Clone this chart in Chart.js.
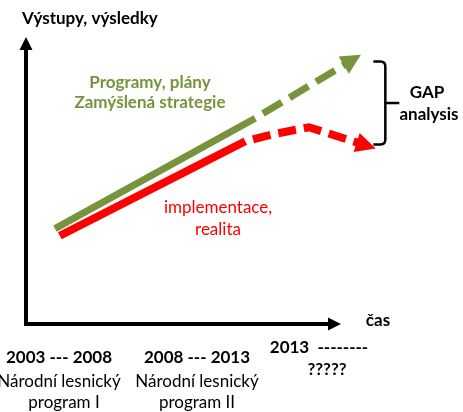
<!DOCTYPE html>
<html><head><meta charset="utf-8">
<script src="https://cdn.jsdelivr.net/npm/chart.js@4/dist/chart.umd.min.js"></script>
<style>html,body{margin:0;padding:0;background:#fff}#wrap{width:463px;height:412px;position:relative}</style>
</head><body><div id="wrap"><canvas id="c" width="463" height="412"></canvas></div>
<script>
// ---- data (abstract units: time 0..100, outputs 0..100) ----
const planTime   = [9.6, 75.9, 107.2];
const planOutput = [34.8, 75.1, 95.8];
const realTime   = [11.2, 72.6, 81.5, 93.7, 111.7];
const realOutput = [32.2, 66.7, 69.2, 71.8, 65.5];
const planLabel  = ['Programy, plány', 'Zamýšlená strategie'];
const realLabel  = ['implementace,', 'realita'];
const yAxisLabel = 'Výstupy, výsledky';
const xAxisLabel = 'čas';
const gapLabel   = ['GAP', 'analysis'];
const periodLabels = [
  ['2003 --- 2008', 'Národní lesnický', 'program I'],
  ['2008 --- 2013', 'Národní lesnický', 'program II'],
  ['2013  --------', '?????']
];

const GREEN = '#77933C', RED = '#FF0000';
const FONT = 'Lato, Carlito, "Liberation Sans", sans-serif';

function pts(xs, ys){ return xs.map((x,i)=>({x:x, y:ys[i]})); }

const arrowPlugin = {
  id: 'arrowHeads',
  afterDatasetsDraw(chart){
    const ctx = chart.ctx;
    chart.data.datasets.forEach((ds,i)=>{
      const p = chart.getDatasetMeta(i).data;
      const a = p[p.length-2], b = p[p.length-1];
      let dx=b.x-a.x, dy=b.y-a.y; const L=Math.hypot(dx,dy); dx/=L; dy/=L;
      const len=20, hw=10, fwd=13;
      const tx=b.x+dx*fwd, ty=b.y+dy*fwd, bx=tx-dx*len, by=ty-dy*len;
      ctx.save(); ctx.beginPath(); ctx.moveTo(tx,ty);
      ctx.lineTo(bx-dy*hw, by+dx*hw); ctx.lineTo(bx+dy*hw, by-dx*hw); ctx.closePath();
      ctx.fillStyle=ds.borderColor; ctx.fill(); ctx.restore();
    });
    // axis arrow heads
    const ca = chart.chartArea;
    ctx.save(); ctx.fillStyle='#000';
    ctx.beginPath(); ctx.moveTo(ca.right+13, ca.bottom); ctx.lineTo(ca.right, ca.bottom-6.5); ctx.lineTo(ca.right, ca.bottom+6.5); ctx.closePath(); ctx.fill();
    ctx.beginPath(); ctx.moveTo(ca.left, ca.top-13); ctx.lineTo(ca.left-6.5, ca.top); ctx.lineTo(ca.left+6.5, ca.top); ctx.closePath(); ctx.fill();
    // brace between end of plan and end of reality
    const g = chart.getDatasetMeta(0).data, r = chart.getDatasetMeta(1).data;
    const top = g[g.length-1].y, bot = r[r.length-1].y;
    const xl = r[r.length-1].x + 10, xv = xl + 12, mid=(top+bot)/2;
    ctx.strokeStyle='#000'; ctx.lineWidth=2.5; ctx.lineJoin='round';
    ctx.beginPath(); ctx.moveTo(xl, top); ctx.lineTo(xv-5, top); ctx.quadraticCurveTo(xv, top, xv, top+5);
    ctx.lineTo(xv, bot-5); ctx.quadraticCurveTo(xv, bot, xv-5, bot); ctx.lineTo(xl, bot); ctx.stroke();
    ctx.beginPath(); ctx.moveTo(xv, mid); ctx.lineTo(xv+14, mid); ctx.stroke();
    ctx.restore();
  }
};

const textPlugin = {
  id: 'texts',
  afterDraw(chart){
    const ctx = chart.ctx;
    const put = (t, x, y, color, bold, align) => {
      ctx.font = (bold ? 'bold ' : '') + '17px ' + FONT;
      ctx.fillStyle = color; ctx.textAlign = align || 'center'; ctx.textBaseline = 'alphabetic';
      ctx.fillText(t, x, y);
    };
    ctx.save();
    put(yAxisLabel, 22, 24, '#000', true, 'left');
    put(planLabel[0], 150, 88, GREEN, true);
    put(planLabel[1], 150, 108, GREEN, true);
    put(realLabel[0], 218, 213, RED, false);
    put(realLabel[1], 218, 235, RED, false);
    put(xAxisLabel, 378, 326, '#000', true);
    put(gapLabel[0], 427, 98, '#000', true);
    put(gapLabel[1], 429, 120, '#000', true);
    const cols = [[59,59,64],[197,197,197],[319,327]];
    const rows = [[363,387,408],[363,387,408],[353,375]];
    periodLabels.forEach((lines,c)=>{
      lines.forEach((t,k)=>{
        const bold = (k===0) || c===2;
        put(t, cols[c][k], rows[c][k], '#000', bold);
      });
    });
    ctx.restore();
  }
};

new Chart(document.getElementById('c'), {
  type: 'scatter',
  data: {
    datasets: [
      { label: planLabel.join(' '), data: pts(planTime, planOutput), showLine: true,
        borderColor: GREEN, backgroundColor: GREEN, borderWidth: 7, pointRadius: 0, clip: false,
        segment: { borderDash: c => c.p0DataIndex >= 1 ? [22, 9] : undefined,
                   borderDashOffset: c => c.p0DataIndex >= 1 ? 22 : undefined } },
      { label: realLabel.join(' '), data: pts(realTime, realOutput), showLine: true,
        borderColor: RED, backgroundColor: RED, borderWidth: 8, pointRadius: 0, clip: false,
        segment: { borderDash: c => c.p0DataIndex >= 1 ? [18, 8] : undefined,
                   borderDashOffset: c => c.p0DataIndex >= 1 ? 18 : undefined } }
    ]
  },
  options: {
    responsive: false, animation: false, devicePixelRatio: 1,
    layout: { padding: { left: 26, right: 135, top: 50, bottom: 88 } },
    plugins: { legend: { display: false }, tooltip: { enabled: false } },
    scales: {
      x: { type: 'linear', min: 0, max: 100,
           grid: { display: false, drawTicks: false }, ticks: { display: false },
           border: { display: true, color: '#000', width: 4 } },
      y: { type: 'linear', min: 0, max: 100,
           grid: { display: false, drawTicks: false }, ticks: { display: false },
           border: { display: true, color: '#000', width: 4 } }
    }
  },
  plugins: [arrowPlugin, textPlugin]
});
</script>
</body></html>
